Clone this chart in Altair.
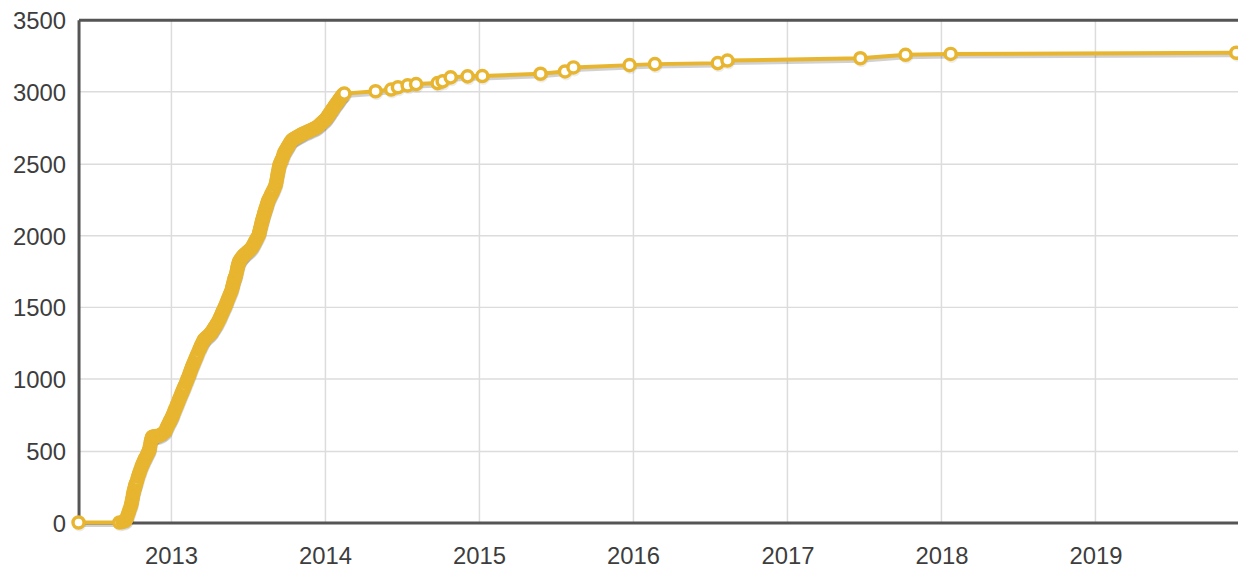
import altair as alt
import pandas as pd

GOLD = "#E8B530"

# Dense growth period: day offsets from 2012-09-01 and cumulative counts
dense_start = "2012-09-01"
dense_days = [
    0, 8, 14, 16, 18, 20, 22, 24, 26, 28, 29, 30, 31, 32, 33, 34, 35, 36, 37, 38, 39, 40,
    42, 44, 46, 48, 50, 52, 54, 56, 58, 60, 62, 64, 66, 68, 70, 71, 72, 73, 74, 75, 76, 77, 78,
    81, 84, 87, 90, 94, 98, 102, 105, 108, 110, 112, 114, 116, 118, 120, 122, 124, 125,
    127, 129, 131, 133, 135, 137, 139, 141, 143, 145, 147, 149, 151, 153, 155, 158,
    160, 162, 164, 166, 168, 170, 172, 174, 176, 178, 180, 182, 184, 186, 189,
    191, 193, 195, 197, 199, 200, 203, 206, 209, 212, 215, 217, 219, 221, 223, 225, 227, 229, 231, 233, 236,
    238, 240, 242, 244, 246, 248, 250, 252, 254, 256, 258, 260, 262, 264, 266,
    267, 268, 269, 270, 271, 272, 273, 274, 275, 276, 277, 278, 279, 280, 281, 282, 283,
    285, 287, 289, 291, 293, 295, 298, 301, 304, 307, 310, 313, 315, 317, 319, 321, 323, 325, 327, 330,
    331, 332, 333, 334, 335, 336, 337, 338, 339, 340, 341, 342, 343, 344, 345, 346, 347, 348, 349, 350, 351, 352, 353,
    355, 357, 359, 361, 363, 365, 367, 370, 371, 372, 373, 374, 375, 376, 377, 378, 379,
    381, 383, 385, 387, 389, 391, 393, 395, 397, 399, 401, 403, 405, 408,
    411, 414, 417, 420, 423, 426, 429, 432, 436, 440, 444, 448, 452, 456, 460, 464, 467,
    470, 473, 476, 479, 482, 485, 488, 490, 492, 494, 496, 498, 500, 502, 504, 506, 508, 511,
    513, 515, 517, 519, 521, 523, 525, 527, 529, 531, 533,
]
dense_counts = [
    0, 4, 12, 20, 38, 55, 72, 90, 108, 125, 140, 158, 170, 188, 205, 215, 228, 240, 252, 262, 270, 278,
    296, 318, 336, 352, 368, 386, 400, 414, 428, 440, 452, 462, 475, 488, 500, 507, 522, 540, 556, 570, 582, 590, 597,
    598, 600, 601, 602, 604, 610, 618, 625, 632, 645, 660, 672, 685, 695, 708, 718, 730, 736,
    750, 765, 780, 795, 810, 822, 838, 854, 868, 882, 896, 910, 924, 938, 952, 972,
    988, 1003, 1019, 1035, 1050, 1066, 1083, 1097, 1111, 1125, 1139, 1153, 1167, 1181, 1201,
    1215, 1228, 1240, 1252, 1264, 1271, 1280, 1288, 1296, 1304, 1312, 1319, 1328, 1337, 1346, 1356, 1365, 1374, 1384, 1394, 1410,
    1424, 1437, 1450, 1463, 1476, 1489, 1502, 1514, 1530, 1545, 1560, 1575, 1590, 1604, 1618,
    1630, 1642, 1654, 1666, 1677, 1688, 1698, 1707, 1715, 1722, 1736, 1750, 1762, 1775, 1788, 1800, 1812,
    1822, 1831, 1840, 1848, 1855, 1861, 1869, 1877, 1885, 1893, 1901, 1910, 1920, 1930, 1941, 1952, 1963, 1974, 1984, 2000,
    2012, 2024, 2036, 2048, 2060, 2072, 2084, 2096, 2108, 2118, 2128, 2139, 2149, 2158, 2168, 2177, 2186, 2196, 2205, 2214, 2224, 2234, 2243,
    2255, 2267, 2279, 2291, 2303, 2315, 2327, 2347, 2362, 2377, 2392, 2408, 2424, 2440, 2455, 2470, 2486,
    2500, 2514, 2528, 2543, 2560, 2576, 2586, 2596, 2606, 2616, 2626, 2636, 2646, 2660,
    2666, 2672, 2677, 2682, 2687, 2692, 2697, 2702, 2708, 2713, 2718, 2724, 2729, 2734, 2740, 2746, 2750,
    2757, 2765, 2773, 2781, 2789, 2797, 2806, 2812, 2820, 2829, 2837, 2846, 2855, 2863, 2872, 2881, 2890, 2903,
    2911, 2919, 2927, 2935, 2944, 2952, 2960, 2968, 2976, 2982, 2986,
]

first_dates = ["2012-05-27"]
first_counts = [0]

late_dates = [
    "2014-05-01", "2014-06-07", "2014-06-23", "2014-07-16", "2014-08-05", "2014-09-25",
    "2014-10-07", "2014-10-26", "2014-12-05", "2015-01-09", "2015-05-27", "2015-07-24",
    "2015-08-13", "2015-12-24", "2016-02-22", "2016-07-20", "2016-08-12", "2017-06-23",
    "2017-10-08", "2018-01-23", "2019-12-01",
]
late_counts = [
    3002, 3014, 3030, 3043, 3052, 3059,
    3071, 3099, 3106, 3108, 3124, 3140,
    3168, 3184, 3191, 3198, 3216, 3232,
    3256, 3262, 3270,
]

y_ticks = [0, 500, 1000, 1500, 2000, 2500, 3000, 3500]

base = pd.Timestamp(dense_start)
dates = first_dates + [(base + pd.Timedelta(days=d)).strftime("%Y-%m-%d") for d in dense_days] + late_dates
counts = first_counts + dense_counts + late_counts
df = pd.DataFrame({"date": dates, "count": counts})

x_scale = alt.Scale(domain=[alt.DateTime(year=2012, month=5, date=27),
                            alt.DateTime(year=2019, month=12, date=5)])
y_scale = alt.Scale(domain=[0, 3500], nice=False)

base_chart = alt.Chart(df)

shadow_line = base_chart.mark_line(color="#000000", opacity=0.18, strokeWidth=4,
                                   xOffset=1, yOffset=2.5).encode(
    x=alt.X("date:T", scale=x_scale,
            axis=alt.Axis(orient="top", labels=False, ticks=False, grid=False,
                          domain=True, title=None)),
    y=alt.Y("count:Q", scale=y_scale, axis=None),
)

shadow_pts = base_chart.mark_point(shape="circle", filled=True, color="#000000",
                                   opacity=0.07, size=170, xOffset=1, yOffset=2.5).encode(
    x=alt.X("date:T", scale=x_scale, axis=None),
    y=alt.Y("count:Q", scale=y_scale, axis=None),
)

main_line = base_chart.mark_line(color=GOLD, strokeWidth=4).encode(
    x=alt.X("date:T", scale=x_scale,
            axis=alt.Axis(orient="bottom", format="%Y", tickCount={"interval": "year", "step": 1},
                          title=None, labelPadding=22, grid=True)),
    y=alt.Y("count:Q", scale=y_scale,
            axis=alt.Axis(values=y_ticks, format="d", title=None, labelPadding=13,
                          labelOffset=2, grid=True)),
)

pts = base_chart.mark_point(shape="circle", filled=True, fill="white", stroke=GOLD,
                            strokeWidth=3.5, size=125, opacity=1).encode(
    x=alt.X("date:T", scale=x_scale, axis=None),
    y=alt.Y("count:Q", scale=y_scale, axis=None),
)

chart = alt.layer(shadow_line, shadow_pts, main_line, pts).resolve_axis(
    x="independent", y="independent"
).properties(
    width=1167, height=506, autosize="none",
    padding={"left": 71, "top": 10, "right": 0, "bottom": 44},
).configure_view(strokeWidth=0).configure_axis(
    labelFont="Liberation Sans", labelFontSize=24, labelColor="#3d3d3d",
    gridColor="#dcdcdc", gridWidth=1.5, domainColor="#555555", domainWidth=3,
    ticks=False,
)

chart.save("out.html", embed_options={"renderer": "svg", "actions": False})
